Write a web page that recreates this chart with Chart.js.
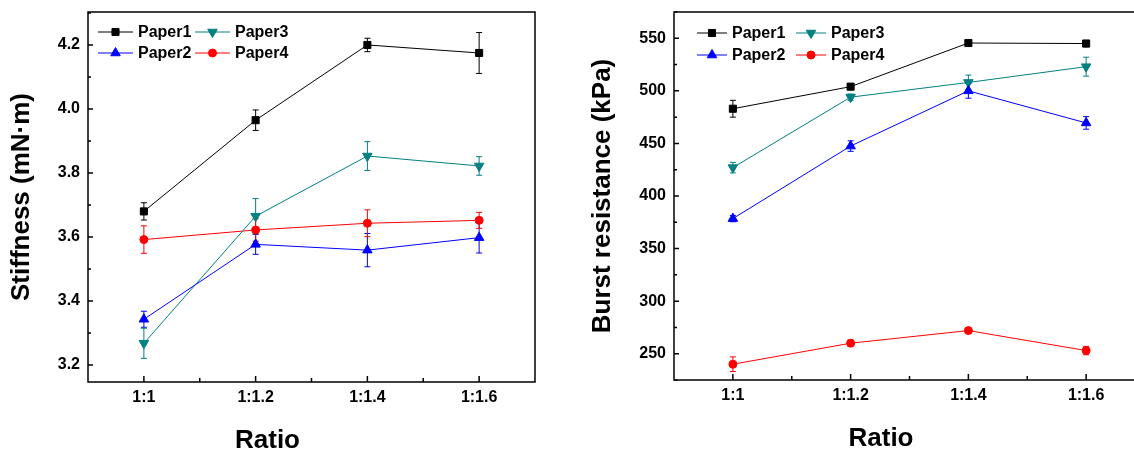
<!DOCTYPE html>
<html>
<head>
<meta charset="utf-8">
<script src="https://cdn.jsdelivr.net/npm/chart.js@4.4.1/dist/chart.umd.min.js"></script>
<style>
  html, body { margin: 0; padding: 0; background: #fff; overflow: hidden; width: 1134px; height: 450px; }
  #stiffChart { position: absolute; left: 0; top: 0; }
  #burstChart { position: absolute; left: 580px; top: 0; }
</style>
</head>
<body>
<canvas id="stiffChart" width="560" height="450"></canvas>
<canvas id="burstChart" width="590" height="450"></canvas>
<script>
const ratios = ["1:1", "1:1.2", "1:1.4", "1:1.6"];
const paperNames = ["Paper1", "Paper2", "Paper3", "Paper4"];

// stiffness (mN·m) and standard deviations
const stiffPaper1 = [3.68, 3.965, 4.20, 4.175];
const stiffPaper2 = [3.343, 3.577, 3.559, 3.598];
const stiffPaper3 = [3.268, 3.665, 3.853, 3.822];
const stiffPaper4 = [3.592, 3.622, 3.643, 3.652];
const stiffErr1 = [0.027, 0.032, 0.021, 0.064];
const stiffErr2 = [0.025, 0.031, 0.052, 0.048];
const stiffErr3 = [0.047, 0.055, 0.045, 0.029];
const stiffErr4 = [0.043, 0.035, 0.042, 0.025];
const stiffTicks = [3.2, 3.4, 3.6, 3.8, 4.0, 4.2];

// burst resistance (kPa) and standard deviations
const burstPaper1 = [483, 504, 545.5, 545];
const burstPaper2 = [378.5, 447.5, 500, 469.5];
const burstPaper3 = [427, 494, 508, 523];
const burstPaper4 = [240, 260, 272, 253];
const burstErr1 = [8, 3, 2, 3];
const burstErr2 = [3, 5, 7, 6];
const burstErr3 = [5, 3, 7, 9];
const burstErr4 = [7, 3, 2, 4];
const burstTicks = [250, 300, 350, 400, 450, 500, 550];

const seriesStyles = [
  { color: "#000000", pointStyle: "rect", radius: 5, rotation: 0 },
  { color: "#0000ff", pointStyle: "triangle", radius: 5.5, rotation: 0 },
  { color: "#008080", pointStyle: "triangle", radius: 5.5, rotation: 180 },
  { color: "#ff0000", pointStyle: "circle", radius: 4, rotation: 0 },
];

Chart.defaults.font.family = "'Liberation Sans', Arial, sans-serif";
Chart.defaults.color = "#000";

const makeSets = (values, errors) =>
  values.map((v, i) => ({
    label: paperNames[i],
    data: v,
    errors: errors[i],
    borderColor: seriesStyles[i].color,
    backgroundColor: seriesStyles[i].color,
    borderWidth: 1,
    pointStyle: seriesStyles[i].pointStyle,
    pointRadius: seriesStyles[i].radius,
    pointRotation: seriesStyles[i].rotation,
    pointBorderWidth: 1,
    tension: 0,
  }));

const errorBars = {
  id: "errorBars",
  beforeDatasetsDraw(chart) {
    const ctx = chart.ctx;
    const y = chart.scales.y;
    chart.data.datasets.forEach((ds, i) => {
      const meta = chart.getDatasetMeta(i);
      ctx.save();
      ctx.strokeStyle = ds.borderColor;
      ctx.lineWidth = 1;
      ctx.beginPath();
      meta.data.forEach((pt, j) => {
        const top = y.getPixelForValue(ds.data[j] + ds.errors[j]);
        const bot = y.getPixelForValue(ds.data[j] - ds.errors[j]);
        ctx.moveTo(pt.x, top); ctx.lineTo(pt.x, bot);
        ctx.moveTo(pt.x - 3, top); ctx.lineTo(pt.x + 3, top);
        ctx.moveTo(pt.x - 3, bot); ctx.lineTo(pt.x + 3, bot);
      });
      ctx.stroke();
      ctx.restore();
    });
  },
};

// box around the plot with inward major / minor ticks
const frame = {
  id: "frame",
  afterDraw(chart) {
    const { ctx, chartArea: a, scales } = chart;
    ctx.save();
    ctx.strokeStyle = "#000";
    ctx.lineWidth = 1.5;
    ctx.strokeRect(a.left, a.top, a.right - a.left, a.bottom - a.top);
    ctx.beginPath();
    const yt = scales.y.ticks.map((t) => t.value);
    const half = (yt[1] - yt[0]) / 2;
    for (let k = -2; k <= yt.length * 2; k++) {
      const v = yt[0] + k * half;
      if (v < scales.y.min || v > scales.y.max) continue;
      const py = scales.y.getPixelForValue(v);
      ctx.moveTo(a.left, py);
      ctx.lineTo(a.left + (k % 2 === 0 ? 5 : 3), py);
    }
    const x = scales.x;
    for (let i = 0; i < x.ticks.length; i++) {
      const px = x.getPixelForValue(i);
      ctx.moveTo(px, a.bottom); ctx.lineTo(px, a.bottom - 6);
      if (i < x.ticks.length - 1) {
        const mx = (px + x.getPixelForValue(i + 1)) / 2;
        ctx.moveTo(mx, a.bottom); ctx.lineTo(mx, a.bottom - 4);
      }
    }
    ctx.stroke();
    ctx.restore();
  },
};

// two-column legend inside the plot
const boxLegend = {
  id: "boxLegend",
  afterDraw(chart, args, opts) {
    const { ctx, chartArea: a } = chart;
    ctx.save();
    ctx.font = "bold 16px 'Liberation Sans', Arial, sans-serif";
    ctx.textBaseline = "middle";
    [0, 2, 1, 3].forEach((dsIndex, k) => {
      const ds = chart.data.datasets[dsIndex];
      const x0 = a.left + opts.cols[k % 2];
      const cy = a.top + opts.rows[Math.floor(k / 2)];
      ctx.strokeStyle = ds.borderColor;
      ctx.fillStyle = ds.backgroundColor;
      ctx.lineWidth = 1;
      ctx.beginPath();
      ctx.moveTo(x0, cy); ctx.lineTo(x0 + opts.lineLen, cy);
      ctx.stroke();
      Chart.helpers.drawPoint(ctx, {
        pointStyle: ds.pointStyle, radius: ds.pointRadius,
        rotation: ds.pointRotation, borderWidth: 1,
      }, x0 + opts.lineLen / 2, cy);
      ctx.fillStyle = "#000";
      ctx.fillText(ds.label, x0 + opts.lineLen + 5, cy + 1);
    });
    ctx.restore();
  },
};

function makeChart(id, sets, cfg) {
  return new Chart(document.getElementById(id), {
    type: "line",
    data: { labels: ratios, datasets: sets },
    plugins: [errorBars, frame, boxLegend],
    options: {
      responsive: false,
      animation: false,
      layout: { padding: cfg.pad },
      plugins: {
        legend: { display: false },
        tooltip: { enabled: false },
        title: {
          display: true, text: "Ratio", position: "bottom", padding: cfg.xTitlePad, color: "#000",
          font: { size: 26, weight: "bold", lineHeight: 1 },
        },
        boxLegend: cfg.legend,
      },
      scales: {
        x: {
          offset: true,
          grid: { display: false, drawTicks: false },
          border: { display: false },
          ticks: { font: { size: 16, weight: "bold" }, padding: 6 },
          afterFit: (s) => { s.height = cfg.xHeight; s.paddingLeft = 0; s.paddingRight = 0; },
        },
        y: {
          min: cfg.min, max: cfg.max,
          grid: { display: false, drawTicks: false },
          border: { display: false },
          ticks: { font: { size: 16, weight: "bold" }, padding: 8, callback: cfg.fmt },
          afterBuildTicks: (s) => { s.ticks = cfg.ticks.map((v) => ({ value: v })); },
          title: {
            display: true, text: cfg.title,
            font: { size: 26, weight: "bold" },
            padding: { top: cfg.titlePad, bottom: 0 },
          },
          afterFit: (s) => { s.width = cfg.yWidth; s.paddingTop = 0; s.paddingBottom = 0; },
        },
      },
    },
  });
}

makeChart("stiffChart",
  makeSets([stiffPaper1, stiffPaper2, stiffPaper3, stiffPaper4], [stiffErr1, stiffErr2, stiffErr3, stiffErr4]),
  {
    pad: { top: 12, right: 25, left: 0, bottom: 0 },
    min: 3.147, max: 4.303, ticks: stiffTicks,
    fmt: (v) => v.toFixed(1),
    title: "Stiffness (mN·m)", titlePad: 6,
    yWidth: 88, xHeight: 42, xTitlePad: { top: 4, bottom: -4 },
    legend: { cols: [10, 107], rows: [20, 41], lineLen: 35 },
  });

makeChart("burstChart",
  makeSets([burstPaper1, burstPaper2, burstPaper3, burstPaper4], [burstErr1, burstErr2, burstErr3, burstErr4]),
  {
    pad: { top: 12, right: 25, left: 37, bottom: 0 },
    min: 225, max: 575, ticks: burstTicks,
    fmt: (v) => v,
    title: "Burst resistance (kPa)", titlePad: -30,
    yWidth: 57, xHeight: 44, xTitlePad: { top: 2, bottom: -2 },
    legend: { cols: [23, 122], rows: [21, 43], lineLen: 30 },
  });
</script>
</body>
</html>
